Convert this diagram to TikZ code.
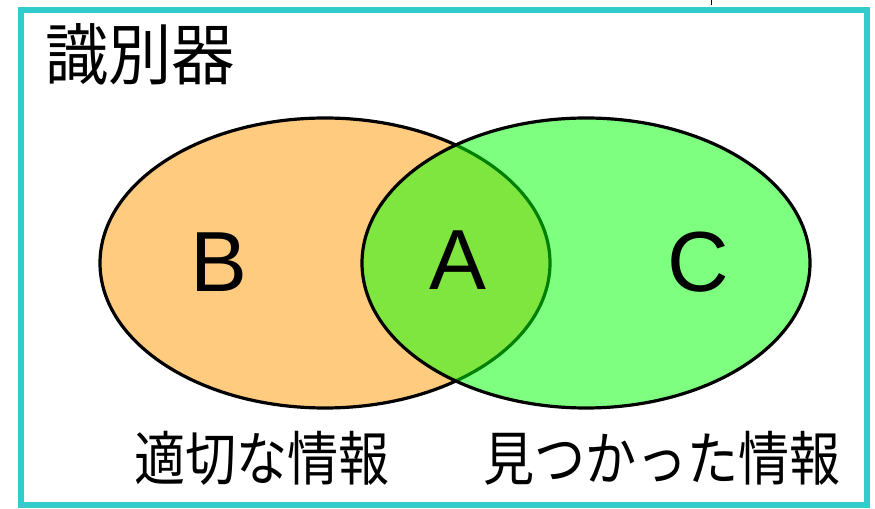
\documentclass[tikz,border=0pt]{standalone}
\usepackage{fontspec}
\setmainfont{Liberation Sans}
\newfontfamily\cjk{Noto Sans CJK JP}
\definecolor{frameteal}{RGB}{51,204,204}
\definecolor{setorange}{RGB}{255,153,0}
\definecolor{setgreen}{RGB}{0,255,0}
\begin{document}
\begin{tikzpicture}[x=0.75pt,y=-0.75pt,
  letter/.style={font=\fontsize{64}{64}\selectfont, inner sep=0pt},
  cjklabel/.style={font=\cjk\fontsize{44}{44}\selectfont, inner sep=0pt, xscale=0.87},
  titlelabel/.style={font=\cjk\fontsize{50}{50}\selectfont, inner sep=0pt, xscale=0.95},
  setline/.style={draw=black, line width=2.4pt}]
\useasboundingbox (0,0) rectangle (875,509);
% frame
\draw[frameteal, line width=5.2pt] (21,10) rectangle (867,505);
\coordinate (ticktop) at (711,0);
\coordinate (tickbot) at (711,5);
\draw[black, line width=0.6pt] (ticktop) -- (tickbot);
% sets
\fill[setorange, fill opacity=0.5] (325,263) ellipse [x radius=225, y radius=145];
\draw[setline] (325,263) ellipse [x radius=225, y radius=145];
\fill[setgreen, fill opacity=0.5] (586,263) ellipse [x radius=224, y radius=145];
\draw[setline] (586,263) ellipse [x radius=224, y radius=145];
% texts
\node[titlelabel, anchor=west] (title) at (45,54) {識別器};
\node[letter] (B) at (219,262) {B};
\node[letter] (A) at (458,260) {A};
\node[letter] (C) at (698,262) {C};
\node[cjklabel] (left) at (262,458) {適切な情報};
\node[cjklabel] (right) at (662,458) {見つかった情報};
\end{tikzpicture}
\end{document}
